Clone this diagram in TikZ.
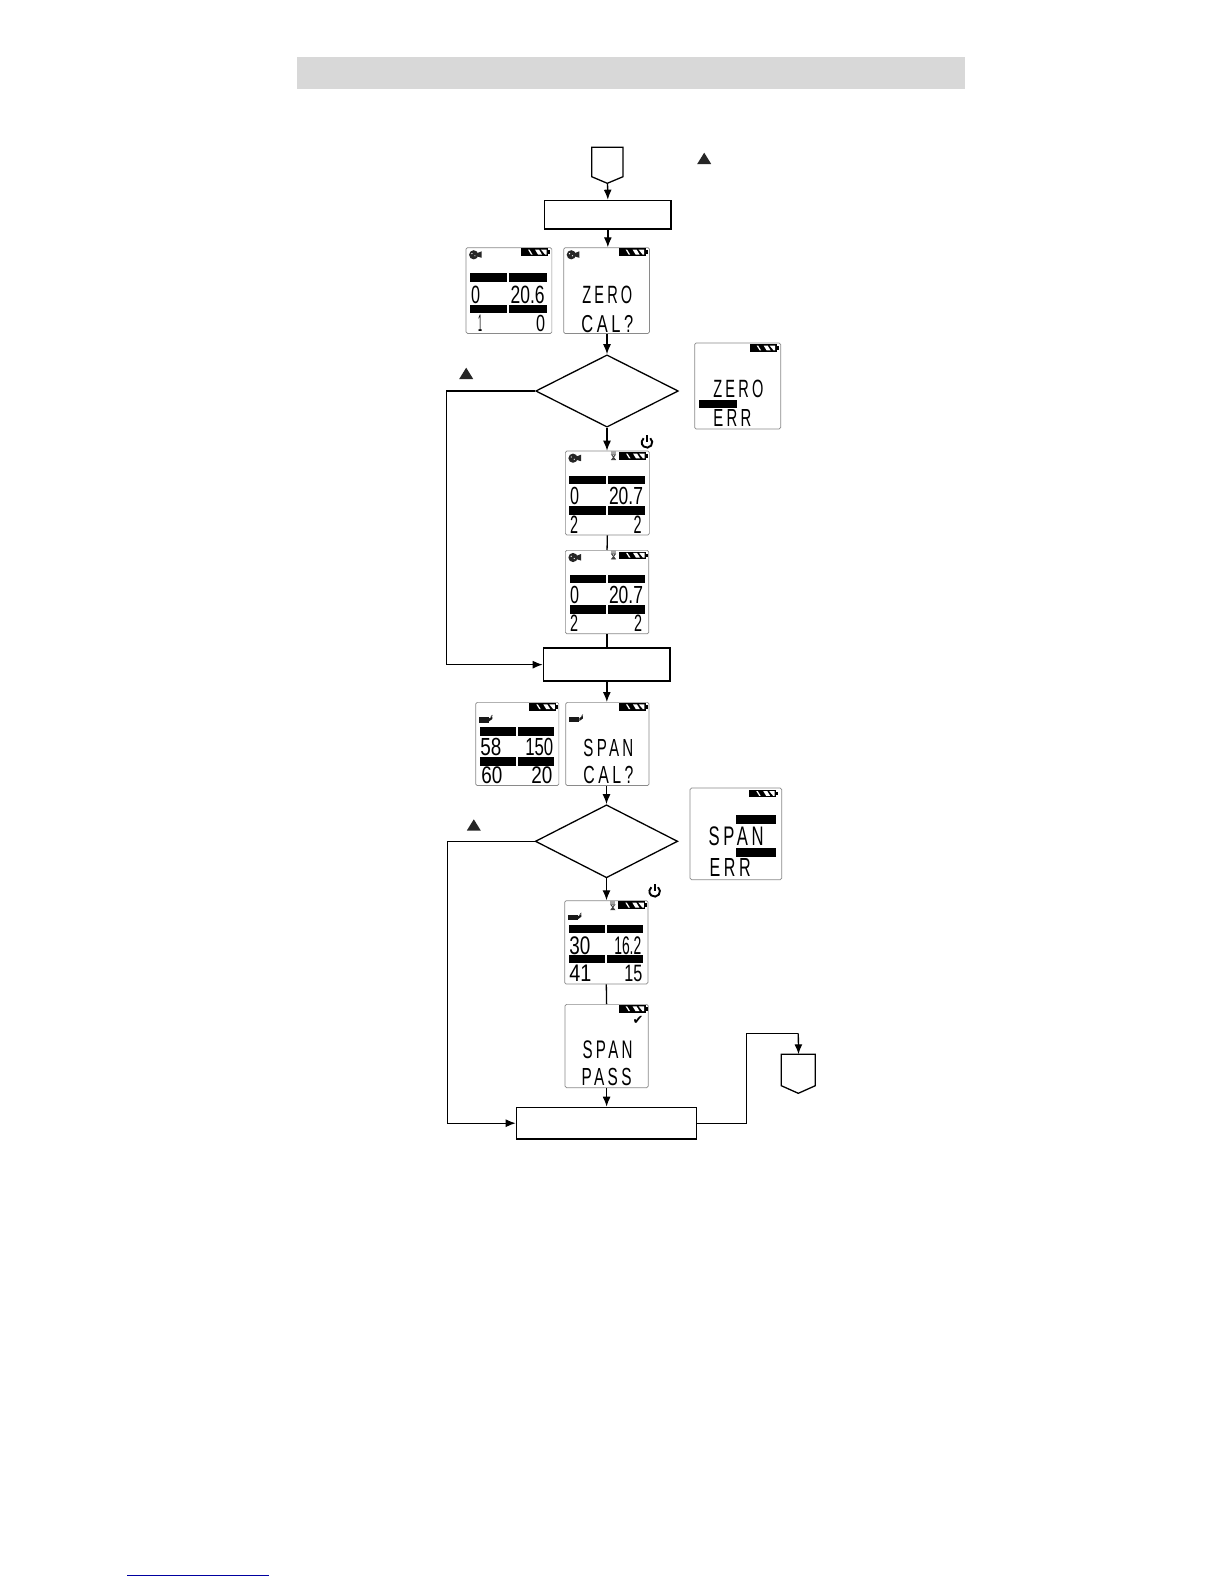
\documentclass[tikz,border=0pt]{standalone}
\usepackage{fontspec}
\usetikzlibrary{shapes.geometric,arrows.meta}
\newfontfamily\lcdfont{Liberation Sans}
\newfontfamily\lcdword{Liberation Sans}[LetterSpace=22]
\newfontfamily\symfont{DejaVu Sans}
\definecolor{barcol}{HTML}{D8D8D8}
\definecolor{framecol}{HTML}{8A8A8A}
\definecolor{linkcol}{HTML}{0000A0}
\tikzset{
  procbox/.style={draw=black,line width=1.7pt,inner sep=0pt,fill=white},
  decide/.style={draw=black,line width=1.3pt,diamond,aspect=2,inner sep=0pt},
  lcdframe/.style={draw=framecol,line width=.7pt,rounded corners=1.5pt,inner sep=0pt,minimum width=#1,minimum height=#1},
  arr/.style={line width=1.3pt,-{Latex[length=10pt,width=8pt]}},
  plain/.style={line width=1.3pt},
  offpage/.style={draw=black,line width=1.3pt,line join=miter},
  lcdtxt/.style={inner sep=0pt,outer sep=0pt,anchor=north west},
}
% #1 x, #2 y, #3 w, #4 h, #5 text (inside the current scope)
\newcommand{\seg}[5]{\node[lcdtxt] at (#1,#2) {\resizebox*{#3pt}{#4pt}{\lcdfont #5}};}
\newcommand{\wrd}[5]{\node[lcdtxt] at (#1,#2) {\resizebox*{#3pt}{#4pt}{\lcdword #5}};}
\newcommand{\blackbar}[4]{\fill[black] (#1,#2) rectangle (#3,#4);}
\newcommand{\battery}[2]{%
  \begin{scope}[shift={(#1,#2)}]
    \fill[black] (0,0) rectangle (27,7.5);
    \fill[black] (27,2) rectangle (29,5.5);
    \fill[white] (7,1.3) -- (8.5,1.3) -- (11.5,6.2) -- (10,6.2) -- cycle;
    \fill[white] (14,1.3) -- (18,1.3) -- (21,6.2) -- (17,6.2) -- cycle;
    \fill[white] (20,1.3) -- (25.5,1.3) -- (25.5,6.2) -- (24,6.2) -- cycle;
  \end{scope}}
\newcommand{\zerogauge}[2]{%
  \begin{scope}[shift={(#1,#2)}]
    \fill[black!85] (5,5) circle (4.6);
    \fill[white] (3.2,3.8) circle (.7);
    \fill[white] (6.2,6) circle (.6);
    \fill[black!85] (8,3.5) -- (13,1.5) -- (13,8) -- (8,6.5) -- cycle;
  \end{scope}}
\newcommand{\spangauge}[2]{%
  \begin{scope}[shift={(#1,#2)}]
    \fill[black!90] (0,1.5) rectangle (10,7);
    \fill[black!90] (10,3) -- (13.5,1) -- (13.5,3.5) -- (10,6) -- cycle;
    \draw[black!90,line width=.6pt] (12,1.5) -- (13.5,-.5);
  \end{scope}}
\newcommand{\hourglass}[2]{%
  \begin{scope}[shift={(#1,#2)}]
    \fill[black!35] (0,0) rectangle (5,3.5);
    \draw[black!75,line width=.8pt] (.6,4) -- (4.4,4) -- (.6,9) -- (4.4,9) -- cycle;
    \fill[black!75] (2.5,6.5) -- (4.4,9) -- (.6,9) -- cycle;
  \end{scope}}
\begin{document}
\begin{tikzpicture}[x=1pt,y=-1pt]
\useasboundingbox (0,0) rectangle (1224,1584);
\fill[white] (0,0) rectangle (1224,1584);
% header band and footer underline
\node[fill=barcol,minimum width=668pt,minimum height=32pt,inner sep=0pt,anchor=north west] (band) at (297,57) {};
\coordinate (linkl) at (127,1575);
\coordinate (linkr) at (269,1575);
\draw[linkcol,line width=1pt] (linkl) -- (linkr);

% off-page start
\node[minimum width=31.3pt,minimum height=36pt,inner sep=0pt,anchor=north west] (offa) at (591.7,147.3) {};
\draw[offpage] (591.7,147.3) -- (623,147.3) -- (623,176.7) -- (607.3,183.3) -- (591.7,176.7) -- cycle;
% process boxes
\node[procbox,minimum width=126.6pt,minimum height=28.3pt,anchor=north west] (boxa) at (543.7,199.7) {};
\node[procbox,minimum width=126.6pt,minimum height=33pt,anchor=north west] (boxb) at (542.7,647.3) {};
\node[procbox,minimum width=180pt,minimum height=31.3pt,anchor=north west] (boxc) at (515.7,1106.7) {};
% diamonds
\node[decide,minimum width=142.6pt,minimum height=72.3pt] (dia1) at (607,391) {};
\node[decide,minimum width=142.4pt,minimum height=73pt] (dia2) at (606.5,841.3) {};
% off-page end
\node[minimum width=34pt,minimum height=39pt,inner sep=0pt,anchor=north west] (offb) at (781.3,1054.3) {};
\draw[offpage] (781.3,1054.3) -- (815.3,1054.3) -- (815.3,1085.7) -- (798.3,1093.3) -- (781.3,1085.7) -- cycle;

% LCD frames
\node[lcdframe=85.8pt,anchor=north west] (lcda) at (465.7,247.3) {};
\node[lcdframe=85.8pt,anchor=north west] (lcdb) at (563.3,247.3) {};
\node[lcdframe=86pt,anchor=north west] (lcdc) at (694.3,342.7) {};
\node[lcdframe=84pt,anchor=north west] (lcdd) at (565,450.7) {};
\node[lcdframe=83.4pt,anchor=north west] (lcde) at (565,550) {};
\node[lcdframe=83.2pt,anchor=north west] (lcdf) at (475.3,702) {};
\node[lcdframe=83.2pt,anchor=north west] (lcdg) at (565.4,702) {};
\node[lcdframe=91.6pt,anchor=north west] (lcdh) at (689.7,787.7) {};
\node[lcdframe=83.3pt,anchor=north west] (lcdi) at (564.3,900.3) {};
\node[lcdframe=83.3pt,anchor=north west] (lcdj) at (564.6,1004) {};

% LCD a
\begin{scope}[shift={(465.7,247.3)}]
\battery{55.3}{1}\zerogauge{3}{2.5}
\blackbar{4.3}{26}{41.7}{34.3}\blackbar{43.7}{26}{81}{34.3}
\blackbar{4.3}{57.7}{41.7}{66}\blackbar{43.7}{57.7}{81}{66}
\seg{5.3}{38.3}{9}{17.7}{0}\seg{45}{38.3}{34}{17.7}{20.6}
\seg{12.5}{67.7}{4}{16.5}{1}\seg{70.5}{67.7}{9}{16.5}{0}
\end{scope}
% LCD b
\begin{scope}[shift={(563.3,247.3)}]
\battery{55.3}{1}\zerogauge{3}{2.5}
\wrd{19}{38.3}{50}{17.7}{ZERO}\wrd{18}{67.7}{52}{17.3}{CAL?}
\end{scope}
% LCD c
\begin{scope}[shift={(694.3,342.7)}]
\battery{55.3}{1.5}
\wrd{19}{37}{50}{17.7}{ZERO}
\blackbar{5}{57}{42.5}{65.5}
\wrd{19}{67}{38}{17}{ERR}
\end{scope}
% LCD d
\begin{scope}[shift={(565,450.7)}]
\battery{54}{1.5}\hourglass{46}{0}\zerogauge{3}{2.5}
\blackbar{4}{25.5}{41}{33.5}\blackbar{42.5}{25.5}{79.5}{33.5}
\blackbar{4}{55.5}{41}{64}\blackbar{43}{55.5}{79.5}{64}
\seg{5}{36.5}{9}{17.5}{0}\seg{44}{36.5}{34}{17.5}{20.7}
\seg{5}{65}{8}{17.5}{2}\seg{68.5}{65}{8}{17.5}{2}
\end{scope}
% LCD e
\begin{scope}[shift={(565,550)}]
\battery{54}{1.5}\hourglass{46}{0}\zerogauge{3}{2.5}
\blackbar{5}{25}{41}{33}\blackbar{43}{25}{79.5}{33}
\blackbar{5}{55}{41}{64}\blackbar{43}{55}{79.5}{64}
\seg{5}{36.5}{9}{17.5}{0}\seg{44}{36.5}{34}{17.5}{20.7}
\seg{5}{65}{8}{16.5}{2}\seg{69}{65}{8}{16.5}{2}
\end{scope}
% LCD f
\begin{scope}[shift={(475.3,702)}]
\battery{54}{1}\spangauge{3.5}{13.5}
\blackbar{5}{25}{41}{33.5}\blackbar{43}{25}{79}{33.5}
\blackbar{5}{55}{41}{63.5}\blackbar{43}{55}{79}{63.5}
\seg{5}{36}{21}{17.5}{58}\seg{50}{36}{28}{17.5}{150}
\seg{6}{65}{21}{17}{60}\seg{56}{65}{21}{17}{20}
\end{scope}
% LCD g
\begin{scope}[shift={(565.4,702)}]
\battery{53.5}{1}\spangauge{4}{13}
\wrd{18}{37}{50}{17.5}{SPAN}\wrd{18}{64.5}{50}{17.5}{CAL?}
\end{scope}
% LCD h
\begin{scope}[shift={(689.7,787.7)}]
\battery{59.5}{2}
\blackbar{46.5}{27.5}{86.5}{36.5}\blackbar{46.5}{60.5}{86.5}{69.5}
\wrd{19}{39.5}{55}{19}{SPAN}\wrd{20}{71}{41}{18}{ERR}
\end{scope}
% LCD i
\begin{scope}[shift={(564.3,900.3)}]
\battery{54}{1}\hourglass{46}{0.5}\spangauge{3.5}{13}
\blackbar{4.5}{25}{40.5}{33}\blackbar{42.5}{25}{78.5}{33}
\blackbar{4.5}{55}{40.5}{63}\blackbar{42.5}{55}{78.5}{63}
\seg{5}{36}{21}{18}{30}\seg{50}{36}{27}{18}{16.2}
\seg{5}{65}{22}{16.5}{41}\seg{60}{65}{18}{16.5}{15}
\end{scope}
% LCD j
\begin{scope}[shift={(564.6,1004)}]
\battery{54}{1}
\node[inner sep=0pt] (tick) at (73.5,16) {\symfont\fontsize{13}{13}\selectfont ✔};
\wrd{18}{36.5}{50}{18}{SPAN}\wrd{17}{64}{50}{17.5}{PASS}
\end{scope}

% triangles
\coordinate (tria) at (704.2,152.7);
\coordinate (trib) at (466.2,367.7);
\coordinate (tric) at (473.8,819.3);
\foreach \t in {tria,trib,tric}
  \fill[black!85] (\t) -- ++(7,11.3) -- ++(-14,0) -- cycle;

% power symbols
\coordinate (powa) at (647,442.3);
\coordinate (powb) at (654.7,891.3);
\foreach \p in {powa,powb}{
  \draw[black,line width=1.9pt] (\p) ++(3.3,-4.1) arc[start angle=-51,delta angle=282,radius=5.3];
  \draw[black,line width=1.9pt] (\p) ++(0,-7) -- ++(0,7);
}

% connector bends
\coordinate (turna) at (446.7,391);
\coordinate (turnb) at (447.7,841.3);
\coordinate (turnc) at (746.7,1033.3);
\coordinate (turnd) at (798.3,1033.3);

% connectors
\draw[arr] (offa.south) -- (boxa.north);
\draw[arr] (boxa.south) -- (lcdb.north -| boxa.south);
\draw[arr] (lcdb.south -| dia1.north) -- (dia1.north);
\draw[arr] (dia1.south) -- (lcdd.north -| dia1.south);
\draw[plain] (lcdd.south) -- (lcde.north);
\draw[plain] (lcde.south) -- (boxb.north -| lcde.south);
\draw[arr] (dia1.west) -- (turna) |- (boxb.west);
\draw[arr] (boxb.south) -- (lcdg.north -| boxb.south);
\draw[arr] (lcdg.south -| dia2.north) -- (dia2.north);
\draw[arr] (dia2.south) -- (lcdi.north -| dia2.south);
\draw[plain] (lcdi.south) -- (lcdj.north);
\draw[arr] (lcdj.south) -- (boxc.north -| lcdj.south);
\draw[arr] (dia2.west) -- (turnb) |- (boxc.west);
\draw[plain] (boxc.east) -| (turnc) -- (turnd);
\draw[arr] (turnd) -- (offb.north);
\end{tikzpicture}
\end{document}
